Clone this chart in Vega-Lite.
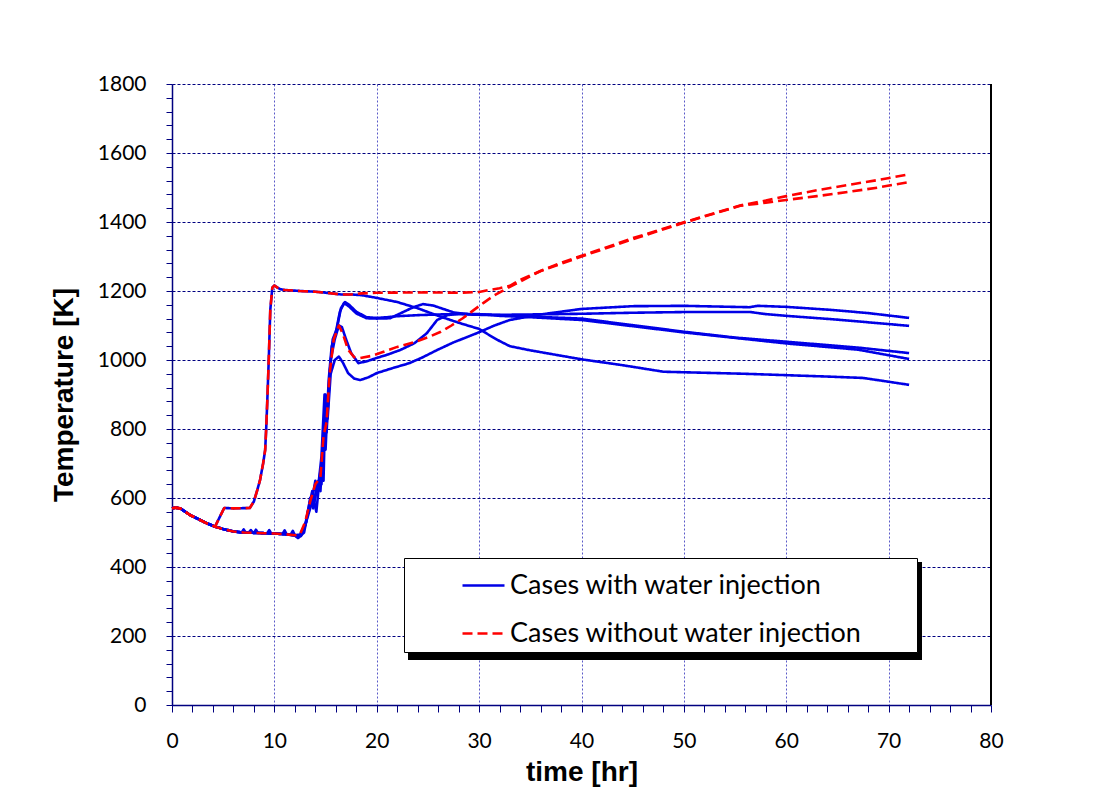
{
"$schema": "https://vega.github.io/schema/vega-lite/v6.json",
"width": 819, "height": 621,
"autosize": {"type": "none"},
"padding": {"left": 172, "top": 84, "right": 128, "bottom": 102},
"background": "white",
"config": {"view": {"stroke": null}},
"datasets": {
"runs": [
{"run":"P","case":"Cases with water injection"},
{"run":"W1","case":"Cases with water injection"},
{"run":"W2","case":"Cases with water injection"},
{"run":"W3","case":"Cases with water injection"},
{"run":"W4","case":"Cases with water injection"},
{"run":"R1","case":"Cases without water injection"},
{"run":"R2","case":"Cases without water injection"}
],
"curves": [
{"run":"P","t":0,"T":570},{"run":"P","t":0.3,"T":572},{"run":"P","t":0.8,"T":570},{"run":"P","t":1.2,"T":562},{"run":"P","t":1.8,"T":550},{"run":"P","t":2.5,"T":540},{"run":"P","t":3.3,"T":528},{"run":"P","t":4.2,"T":517},
{"run":"P","t":5.1,"T":571},{"run":"P","t":6,"T":570},{"run":"P","t":7.6,"T":571},{"run":"P","t":8,"T":590},{"run":"P","t":8.3,"T":620},{"run":"P","t":8.6,"T":652},{"run":"P","t":8.9,"T":700},{"run":"P","t":9.1,"T":739},{"run":"P","t":9.2,"T":800},{"run":"P","t":9.3,"T":875},{"run":"P","t":9.45,"T":1000},{"run":"P","t":9.6,"T":1145},{"run":"P","t":9.8,"T":1210},{"run":"P","t":10,"T":1216},{"run":"P","t":10.3,"T":1210},{"run":"P","t":10.6,"T":1205},{"run":"P","t":11,"T":1203},{"run":"P","t":12.5,"T":1200},{"run":"P","t":14,"T":1198},{"run":"P","t":15,"T":1195},{"run":"P","t":16.5,"T":1190},{"run":"P","t":17.5,"T":1190},
{"run":"P","t":18.5,"T":1188},{"run":"P","t":20,"T":1180},{"run":"P","t":22,"T":1168},{"run":"P","t":24,"T":1150},{"run":"P","t":26,"T":1128},{"run":"P","t":28,"T":1108},{"run":"P","t":30,"T":1090},{"run":"P","t":31,"T":1072},{"run":"P","t":32,"T":1055},{"run":"P","t":33,"T":1040},{"run":"P","t":35,"T":1028},{"run":"P","t":40,"T":1002},{"run":"P","t":44,"T":985},{"run":"P","t":48,"T":966},{"run":"P","t":52,"T":963},{"run":"P","t":56,"T":960},{"run":"P","t":60,"T":956},{"run":"P","t":64,"T":952},{"run":"P","t":67.5,"T":948},{"run":"P","t":70,"T":937},{"run":"P","t":72,"T":928},

{"run":"W1","t":0,"T":570},{"run":"W1","t":0.3,"T":572},{"run":"W1","t":0.8,"T":570},{"run":"W1","t":1.2,"T":562},{"run":"W1","t":1.8,"T":550},{"run":"W1","t":2.5,"T":540},{"run":"W1","t":3.3,"T":528},{"run":"W1","t":4.2,"T":517},
{"run":"W1","t":5,"T":510},{"run":"W1","t":6,"T":503},{"run":"W1","t":6.8,"T":500},{"run":"W1","t":7,"T":509},{"run":"W1","t":7.2,"T":500},{"run":"W1","t":8,"T":499},{"run":"W1","t":9,"T":498},{"run":"W1","t":10,"T":497},{"run":"W1","t":10.8,"T":496},{"run":"W1","t":11,"T":506},{"run":"W1","t":11.2,"T":495},{"run":"W1","t":12,"T":492},{"run":"W1","t":12.5,"T":494},{"run":"W1","t":13,"T":520},{"run":"W1","t":13.4,"T":580},{"run":"W1","t":13.7,"T":620},{"run":"W1","t":13.9,"T":590},{"run":"W1","t":14.3,"T":650},{"run":"W1","t":14.6,"T":640},{"run":"W1","t":14.9,"T":820},{"run":"W1","t":15.1,"T":790},{"run":"W1","t":15.4,"T":960},{"run":"W1","t":15.7,"T":1060},{"run":"W1","t":16.1,"T":1090},{"run":"W1","t":16.5,"T":1150},{"run":"W1","t":16.9,"T":1168},{"run":"W1","t":17.3,"T":1160},{"run":"W1","t":18,"T":1140},{"run":"W1","t":19,"T":1124},{"run":"W1","t":20,"T":1122},{"run":"W1","t":21,"T":1124},{"run":"W1","t":22,"T":1127},{"run":"W1","t":24,"T":1130},{"run":"W1","t":26,"T":1132},{"run":"W1","t":28,"T":1133},{"run":"W1","t":30,"T":1132},{"run":"W1","t":32,"T":1131},{"run":"W1","t":35,"T":1132},{"run":"W1","t":40,"T":1134},{"run":"W1","t":45,"T":1137},{"run":"W1","t":50,"T":1139},{"run":"W1","t":56.5,"T":1139},{"run":"W1","t":58,"T":1133},{"run":"W1","t":60,"T":1128},{"run":"W1","t":65,"T":1117},{"run":"W1","t":72,"T":1099},

{"run":"W2","t":0,"T":570},{"run":"W2","t":0.3,"T":572},{"run":"W2","t":0.8,"T":570},{"run":"W2","t":1.2,"T":562},{"run":"W2","t":1.8,"T":550},{"run":"W2","t":2.5,"T":540},{"run":"W2","t":3.3,"T":528},{"run":"W2","t":4.2,"T":517},
{"run":"W2","t":5,"T":510},{"run":"W2","t":6,"T":503},{"run":"W2","t":7,"T":500},{"run":"W2","t":8,"T":499},{"run":"W2","t":8.2,"T":508},{"run":"W2","t":8.4,"T":499},{"run":"W2","t":9,"T":498},{"run":"W2","t":10,"T":497},{"run":"W2","t":11,"T":495},{"run":"W2","t":11.6,"T":494},{"run":"W2","t":11.8,"T":505},{"run":"W2","t":12,"T":492},{"run":"W2","t":12.6,"T":490},{"run":"W2","t":13.1,"T":530},{"run":"W2","t":13.5,"T":600},{"run":"W2","t":13.8,"T":570},{"run":"W2","t":14.2,"T":640},{"run":"W2","t":14.5,"T":620},{"run":"W2","t":14.8,"T":780},{"run":"W2","t":15,"T":740},{"run":"W2","t":15.3,"T":940},{"run":"W2","t":15.6,"T":1040},{"run":"W2","t":16,"T":1080},{"run":"W2","t":16.4,"T":1140},{"run":"W2","t":16.8,"T":1165},{"run":"W2","t":17.3,"T":1155},{"run":"W2","t":18,"T":1135},{"run":"W2","t":19,"T":1121},{"run":"W2","t":20,"T":1120},{"run":"W2","t":21.3,"T":1121},{"run":"W2","t":22.3,"T":1135},{"run":"W2","t":23.5,"T":1152},{"run":"W2","t":24.5,"T":1162},{"run":"W2","t":25.5,"T":1158},{"run":"W2","t":26.5,"T":1148},{"run":"W2","t":27.5,"T":1138},{"run":"W2","t":29,"T":1132},{"run":"W2","t":30,"T":1131},{"run":"W2","t":32,"T":1130},{"run":"W2","t":35,"T":1126},{"run":"W2","t":40,"T":1120},{"run":"W2","t":45,"T":1101},{"run":"W2","t":50,"T":1082},{"run":"W2","t":55,"T":1065},{"run":"W2","t":60,"T":1053},{"run":"W2","t":67,"T":1036},{"run":"W2","t":72,"T":1020},

{"run":"W3","t":0,"T":570},{"run":"W3","t":0.3,"T":572},{"run":"W3","t":0.8,"T":570},{"run":"W3","t":1.2,"T":562},{"run":"W3","t":1.8,"T":550},{"run":"W3","t":2.5,"T":540},{"run":"W3","t":3.3,"T":528},{"run":"W3","t":4.2,"T":517},
{"run":"W3","t":5,"T":510},{"run":"W3","t":6,"T":503},{"run":"W3","t":7,"T":500},{"run":"W3","t":8,"T":499},{"run":"W3","t":9,"T":498},{"run":"W3","t":9.3,"T":498},{"run":"W3","t":9.5,"T":507},{"run":"W3","t":9.7,"T":497},{"run":"W3","t":10,"T":497},{"run":"W3","t":11,"T":495},{"run":"W3","t":12,"T":492},{"run":"W3","t":12.4,"T":486},{"run":"W3","t":12.9,"T":500},{"run":"W3","t":13.3,"T":560},{"run":"W3","t":13.8,"T":600},{"run":"W3","t":14.1,"T":560},{"run":"W3","t":14.5,"T":680},{"run":"W3","t":14.8,"T":650},{"run":"W3","t":15,"T":900},{"run":"W3","t":15.2,"T":850},{"run":"W3","t":15.5,"T":1000},{"run":"W3","t":15.9,"T":1060},{"run":"W3","t":16.3,"T":1100},{"run":"W3","t":16.6,"T":1095},{"run":"W3","t":17,"T":1060},{"run":"W3","t":17.5,"T":1020},{"run":"W3","t":18.2,"T":991},{"run":"W3","t":19,"T":996},{"run":"W3","t":20,"T":1006},{"run":"W3","t":21,"T":1015},{"run":"W3","t":22.3,"T":1029},{"run":"W3","t":23.7,"T":1049},{"run":"W3","t":24.9,"T":1078},{"run":"W3","t":25.9,"T":1116},{"run":"W3","t":26.9,"T":1130},{"run":"W3","t":28,"T":1134},{"run":"W3","t":30,"T":1133},{"run":"W3","t":32,"T":1128},{"run":"W3","t":35,"T":1124},{"run":"W3","t":40,"T":1116},{"run":"W3","t":45,"T":1098},{"run":"W3","t":50,"T":1080},{"run":"W3","t":55,"T":1064},{"run":"W3","t":60,"T":1048},{"run":"W3","t":67,"T":1030},{"run":"W3","t":72,"T":1003},

{"run":"W4","t":0,"T":570},{"run":"W4","t":0.3,"T":572},{"run":"W4","t":0.8,"T":570},{"run":"W4","t":1.2,"T":562},{"run":"W4","t":1.8,"T":550},{"run":"W4","t":2.5,"T":540},{"run":"W4","t":3.3,"T":528},{"run":"W4","t":4.2,"T":517},
{"run":"W4","t":5,"T":510},{"run":"W4","t":6,"T":503},{"run":"W4","t":7,"T":500},{"run":"W4","t":7.5,"T":500},{"run":"W4","t":7.7,"T":507},{"run":"W4","t":7.9,"T":499},{"run":"W4","t":9,"T":498},{"run":"W4","t":10,"T":497},{"run":"W4","t":11,"T":495},{"run":"W4","t":12,"T":491},{"run":"W4","t":12.3,"T":484},{"run":"W4","t":12.8,"T":500},{"run":"W4","t":13.2,"T":540},{"run":"W4","t":13.6,"T":580},{"run":"W4","t":14,"T":650},{"run":"W4","t":14.2,"T":610},{"run":"W4","t":14.6,"T":720},{"run":"W4","t":14.9,"T":900},{"run":"W4","t":15.2,"T":830},{"run":"W4","t":15.5,"T":960},{"run":"W4","t":15.9,"T":1000},{"run":"W4","t":16.3,"T":1010},{"run":"W4","t":16.7,"T":992},{"run":"W4","t":17.2,"T":962},{"run":"W4","t":17.8,"T":946},{"run":"W4","t":18.4,"T":942},{"run":"W4","t":19.2,"T":950},{"run":"W4","t":20,"T":962},{"run":"W4","t":21.5,"T":976},{"run":"W4","t":23.2,"T":991},{"run":"W4","t":24.5,"T":1008},{"run":"W4","t":25.9,"T":1029},{"run":"W4","t":27.5,"T":1051},{"run":"W4","t":29.8,"T":1078},{"run":"W4","t":31.5,"T":1100},{"run":"W4","t":33,"T":1116},{"run":"W4","t":36,"T":1132},{"run":"W4","t":40,"T":1148},{"run":"W4","t":45,"T":1156},{"run":"W4","t":50,"T":1157},{"run":"W4","t":56.4,"T":1153},{"run":"W4","t":57.2,"T":1157},{"run":"W4","t":60,"T":1154},{"run":"W4","t":64.5,"T":1145},{"run":"W4","t":68,"T":1136},{"run":"W4","t":72,"T":1122},

{"run":"R1","t":0,"T":570},{"run":"R1","t":0.3,"T":572},{"run":"R1","t":0.8,"T":570},{"run":"R1","t":1.2,"T":562},{"run":"R1","t":1.8,"T":550},{"run":"R1","t":2.5,"T":540},{"run":"R1","t":3.3,"T":528},{"run":"R1","t":4.2,"T":517},
{"run":"R1","t":5.1,"T":571},{"run":"R1","t":6,"T":570},{"run":"R1","t":7.6,"T":571},{"run":"R1","t":8,"T":590},{"run":"R1","t":8.3,"T":620},{"run":"R1","t":8.6,"T":652},{"run":"R1","t":8.9,"T":700},{"run":"R1","t":9.1,"T":739},{"run":"R1","t":9.2,"T":800},{"run":"R1","t":9.3,"T":875},{"run":"R1","t":9.45,"T":1000},{"run":"R1","t":9.6,"T":1145},{"run":"R1","t":9.8,"T":1210},{"run":"R1","t":10,"T":1216},{"run":"R1","t":10.3,"T":1210},{"run":"R1","t":10.6,"T":1205},{"run":"R1","t":11,"T":1203},{"run":"R1","t":12.5,"T":1200},{"run":"R1","t":14,"T":1198},{"run":"R1","t":15,"T":1195},{"run":"R1","t":16.5,"T":1190},{"run":"R1","t":17.5,"T":1190},
{"run":"R1","t":18.5,"T":1193},{"run":"R1","t":20,"T":1195},{"run":"R1","t":25,"T":1196},{"run":"R1","t":28,"T":1195},{"run":"R1","t":30,"T":1197},{"run":"R1","t":31,"T":1203},{"run":"R1","t":32,"T":1208},{"run":"R1","t":33,"T":1215},{"run":"R1","t":34,"T":1232},{"run":"R1","t":36,"T":1258},{"run":"R1","t":38,"T":1282},{"run":"R1","t":40,"T":1302},{"run":"R1","t":45,"T":1353},{"run":"R1","t":50,"T":1399},{"run":"R1","t":55.5,"T":1448},{"run":"R1","t":58,"T":1462},{"run":"R1","t":60,"T":1475},{"run":"R1","t":63,"T":1492},{"run":"R1","t":66,"T":1507},{"run":"R1","t":69,"T":1522},{"run":"R1","t":72,"T":1538},

{"run":"R2","t":0,"T":570},{"run":"R2","t":0.3,"T":572},{"run":"R2","t":0.8,"T":570},{"run":"R2","t":1.2,"T":562},{"run":"R2","t":1.8,"T":550},{"run":"R2","t":2.5,"T":540},{"run":"R2","t":3.3,"T":528},{"run":"R2","t":4.2,"T":517},
{"run":"R2","t":5,"T":510},{"run":"R2","t":6,"T":503},{"run":"R2","t":7,"T":500},{"run":"R2","t":8,"T":499},{"run":"R2","t":9,"T":498},{"run":"R2","t":10,"T":497},{"run":"R2","t":11,"T":495},{"run":"R2","t":12,"T":492},{"run":"R2","t":12.5,"T":495},{"run":"R2","t":13,"T":530},{"run":"R2","t":13.5,"T":590},{"run":"R2","t":14,"T":640},{"run":"R2","t":14.5,"T":660},{"run":"R2","t":14.8,"T":780},{"run":"R2","t":15.1,"T":820},{"run":"R2","t":15.4,"T":960},{"run":"R2","t":15.8,"T":1060},{"run":"R2","t":16.3,"T":1100},{"run":"R2","t":16.7,"T":1075},{"run":"R2","t":17.2,"T":1030},{"run":"R2","t":17.8,"T":1008},{"run":"R2","t":18.4,"T":1006},{"run":"R2","t":19.5,"T":1012},{"run":"R2","t":20.6,"T":1023},{"run":"R2","t":22,"T":1038},{"run":"R2","t":23.7,"T":1052},{"run":"R2","t":25,"T":1066},{"run":"R2","t":26.2,"T":1081},{"run":"R2","t":27.3,"T":1100},{"run":"R2","t":28.4,"T":1121},{"run":"R2","t":29.4,"T":1143},{"run":"R2","t":30.4,"T":1165},{"run":"R2","t":31.5,"T":1188},{"run":"R2","t":33,"T":1212},{"run":"R2","t":36,"T":1258},{"run":"R2","t":40,"T":1300},{"run":"R2","t":45,"T":1350},{"run":"R2","t":50,"T":1398},{"run":"R2","t":55.5,"T":1447},{"run":"R2","t":58,"T":1456},{"run":"R2","t":60,"T":1464},{"run":"R2","t":63,"T":1475},{"run":"R2","t":66,"T":1487},{"run":"R2","t":69,"T":1500},{"run":"R2","t":72,"T":1516}
]
},
"data": {"name": "curves"},
"transform": [{"lookup": "run", "from": {"data": {"name": "runs"}, "key": "run", "fields": ["case"]}}],
"layer": [
{
"mark": {"type": "point", "opacity": 0},
"encoding": {
"x": {"field": "t", "type": "quantitative", "scale": {"domain": [0, 80], "nice": false},
"axis": {"title": "time [hr]", "titleFont": "Liberation Sans", "titleFontSize": 28, "titleFontWeight": "bold", "titleColor": "black", "titleX": 409.5, "titleY": 75, "titleAlign": "center", "titleBaseline": "alphabetic",
"values": [0,2,4,6,8,10,12,14,16,18,20,22,24,26,28,30,32,34,36,38,40,42,44,46,48,50,52,54,56,58,60,62,64,66,68,70,72,74,76,78,80],
"labelExpr": "datum.value % 10 === 0 ? datum.label : ''",
"labelFont": "Lato", "labelFontSize": 21, "labelColor": "black", "labelPadding": 35, "labelBaseline": "alphabetic", "labelOverlap": false, "labelFlush": false,
"tickSize": 7, "tickColor": "#000080", "tickWidth": 1, "domainColor": "#000080", "domainWidth": 1.5,
"grid": true, "gridColor": "#5a5ac8", "gridDash": [2, 2], "gridWidth": 1,
"gridOpacity": {"condition": {"test": "datum.value % 10 === 0", "value": 1}, "value": 0}}},
"y": {"field": "T", "type": "quantitative", "scale": {"domain": [0, 1800], "nice": false},
"axis": {"title": "Temperature [K]", "titleFont": "Liberation Sans", "titleFontSize": 28, "titleFontWeight": "bold", "titleColor": "black", "titleAngle": -90, "titleX": -100, "titleY": 310.5, "titleAlign": "center", "titleBaseline": "alphabetic",
"values": [0,40,80,120,160,200,240,280,320,360,400,440,480,520,560,600,640,680,720,760,800,840,880,920,960,1000,1040,1080,1120,1160,1200,1240,1280,1320,1360,1400,1440,1480,1520,1560,1600,1640,1680,1720,1760,1800],
"format": "d", "labelExpr": "datum.value % 200 === 0 ? datum.label : ''",
"labelFont": "Lato", "labelFontSize": 21, "labelColor": "black", "labelPadding": 20, "labelOverlap": false, "labelFlush": false,
"tickSize": 6, "tickColor": "#000080", "tickWidth": 1, "domainColor": "#000080", "domainWidth": 1.5,
"grid": true, "gridColor": "#000080", "gridDash": [3, 2], "gridWidth": 1,
"gridOpacity": {"condition": {"test": "datum.value % 200 === 0", "value": 1}, "value": 0}}},
"fill": {"field": "T", "type": "quantitative", "scale": {"range": ["#000000", "#000000"]},
"legend": {"title": null, "orient": "none", "legendX": 236, "legendY": 478, "direction": "horizontal", "gradientLength": 514, "gradientThickness": 98, "gradientStrokeWidth": 0, "labelOpacity": 0, "padding": 0, "zindex": 1}}
}
},
{
"transform": [{"filter": "datum.case === 'Cases with water injection'"}],
"mark": {"type": "line", "strokeWidth": 2.6, "strokeJoin": "round"},
"encoding": {
"x": {"field": "t", "type": "quantitative", "scale": {"domain": [0, 80], "nice": false},
"axis": {"title": "time [hr]", "titleFont": "Liberation Sans", "titleFontSize": 28, "titleFontWeight": "bold", "titleColor": "black", "titleX": 409.5, "titleY": 75, "titleAlign": "center", "titleBaseline": "alphabetic",
"values": [0,2,4,6,8,10,12,14,16,18,20,22,24,26,28,30,32,34,36,38,40,42,44,46,48,50,52,54,56,58,60,62,64,66,68,70,72,74,76,78,80],
"labelExpr": "datum.value % 10 === 0 ? datum.label : ''",
"labelFont": "Lato", "labelFontSize": 21, "labelColor": "black", "labelPadding": 35, "labelBaseline": "alphabetic", "labelOverlap": false, "labelFlush": false,
"tickSize": 7, "tickColor": "#000080", "tickWidth": 1, "domainColor": "#000080", "domainWidth": 1.5,
"grid": true, "gridColor": "#5a5ac8", "gridDash": [2, 2], "gridWidth": 1,
"gridOpacity": {"condition": {"test": "datum.value % 10 === 0", "value": 1}, "value": 0}}},
"y": {"field": "T", "type": "quantitative", "scale": {"domain": [0, 1800], "nice": false},
"axis": {"title": "Temperature [K]", "titleFont": "Liberation Sans", "titleFontSize": 28, "titleFontWeight": "bold", "titleColor": "black", "titleAngle": -90, "titleX": -100, "titleY": 310.5, "titleAlign": "center", "titleBaseline": "alphabetic",
"values": [0,40,80,120,160,200,240,280,320,360,400,440,480,520,560,600,640,680,720,760,800,840,880,920,960,1000,1040,1080,1120,1160,1200,1240,1280,1320,1360,1400,1440,1480,1520,1560,1600,1640,1680,1720,1760,1800],
"format": "d", "labelExpr": "datum.value % 200 === 0 ? datum.label : ''",
"labelFont": "Lato", "labelFontSize": 21, "labelColor": "black", "labelPadding": 20, "labelOverlap": false, "labelFlush": false,
"tickSize": 6, "tickColor": "#000080", "tickWidth": 1, "domainColor": "#000080", "domainWidth": 1.5,
"grid": true, "gridColor": "#000080", "gridDash": [3, 2], "gridWidth": 1,
"gridOpacity": {"condition": {"test": "datum.value % 200 === 0", "value": 1}, "value": 0}}},
"color": {"field": "case", "type": "nominal",
"scale": {"domain": ["Cases with water injection", "Cases without water injection"], "range": ["#0000e6", "#ff0000"]},
"legend": {"title": " ", "titleOrient": "right", "titlePadding": 50, "titleFontSize": 1, "orient": "none", "legendX": 232, "legendY": 474, "direction": "vertical", "fillColor": "white", "strokeColor": "black", "padding": 5, "symbolType": "stroke", "symbolSize": 1764, "symbolStrokeWidth": 2.5, "symbolOffset": 52, "labelFont": "Lato", "labelFontSize": 27, "labelColor": "black", "labelOffset": 4, "labelLimit": 600, "rowPadding": 12, "zindex": 2}},
"strokeDash": {"field": "case", "type": "nominal",
"scale": {"domain": ["Cases with water injection", "Cases without water injection"], "range": [[1, 0], [10, 5]]},
"legend": {"title": " ", "titleOrient": "right", "titlePadding": 50, "titleFontSize": 1, "orient": "none", "legendX": 232, "legendY": 474, "direction": "vertical", "fillColor": "white", "strokeColor": "black", "padding": 5, "symbolType": "stroke", "symbolSize": 1764, "symbolStrokeWidth": 2.5, "symbolOffset": 52, "labelFont": "Lato", "labelFontSize": 27, "labelColor": "black", "labelOffset": 4, "labelLimit": 600, "rowPadding": 12, "zindex": 2}},
"detail": {"field": "run", "type": "nominal"}
}
},
{
"transform": [{"filter": "datum.case === 'Cases without water injection'"}],
"mark": {"type": "line", "strokeWidth": 2.6, "strokeJoin": "round"},
"encoding": {
"x": {"field": "t", "type": "quantitative", "scale": {"domain": [0, 80], "nice": false},
"axis": {"title": "time [hr]", "titleFont": "Liberation Sans", "titleFontSize": 28, "titleFontWeight": "bold", "titleColor": "black", "titleX": 409.5, "titleY": 75, "titleAlign": "center", "titleBaseline": "alphabetic",
"values": [0,2,4,6,8,10,12,14,16,18,20,22,24,26,28,30,32,34,36,38,40,42,44,46,48,50,52,54,56,58,60,62,64,66,68,70,72,74,76,78,80],
"labelExpr": "datum.value % 10 === 0 ? datum.label : ''",
"labelFont": "Lato", "labelFontSize": 21, "labelColor": "black", "labelPadding": 35, "labelBaseline": "alphabetic", "labelOverlap": false, "labelFlush": false,
"tickSize": 7, "tickColor": "#000080", "tickWidth": 1, "domainColor": "#000080", "domainWidth": 1.5,
"grid": true, "gridColor": "#5a5ac8", "gridDash": [2, 2], "gridWidth": 1,
"gridOpacity": {"condition": {"test": "datum.value % 10 === 0", "value": 1}, "value": 0}}},
"y": {"field": "T", "type": "quantitative", "scale": {"domain": [0, 1800], "nice": false},
"axis": {"title": "Temperature [K]", "titleFont": "Liberation Sans", "titleFontSize": 28, "titleFontWeight": "bold", "titleColor": "black", "titleAngle": -90, "titleX": -100, "titleY": 310.5, "titleAlign": "center", "titleBaseline": "alphabetic",
"values": [0,40,80,120,160,200,240,280,320,360,400,440,480,520,560,600,640,680,720,760,800,840,880,920,960,1000,1040,1080,1120,1160,1200,1240,1280,1320,1360,1400,1440,1480,1520,1560,1600,1640,1680,1720,1760,1800],
"format": "d", "labelExpr": "datum.value % 200 === 0 ? datum.label : ''",
"labelFont": "Lato", "labelFontSize": 21, "labelColor": "black", "labelPadding": 20, "labelOverlap": false, "labelFlush": false,
"tickSize": 6, "tickColor": "#000080", "tickWidth": 1, "domainColor": "#000080", "domainWidth": 1.5,
"grid": true, "gridColor": "#000080", "gridDash": [3, 2], "gridWidth": 1,
"gridOpacity": {"condition": {"test": "datum.value % 200 === 0", "value": 1}, "value": 0}}},
"color": {"field": "case", "type": "nominal",
"scale": {"domain": ["Cases with water injection", "Cases without water injection"], "range": ["#0000e6", "#ff0000"]},
"legend": {"title": " ", "titleOrient": "right", "titlePadding": 50, "titleFontSize": 1, "orient": "none", "legendX": 232, "legendY": 474, "direction": "vertical", "fillColor": "white", "strokeColor": "black", "padding": 5, "symbolType": "stroke", "symbolSize": 1764, "symbolStrokeWidth": 2.5, "symbolOffset": 52, "labelFont": "Lato", "labelFontSize": 27, "labelColor": "black", "labelOffset": 4, "labelLimit": 600, "rowPadding": 12, "zindex": 2}},
"strokeDash": {"field": "case", "type": "nominal",
"scale": {"domain": ["Cases with water injection", "Cases without water injection"], "range": [[1, 0], [10, 5]]},
"legend": {"title": " ", "titleOrient": "right", "titlePadding": 50, "titleFontSize": 1, "orient": "none", "legendX": 232, "legendY": 474, "direction": "vertical", "fillColor": "white", "strokeColor": "black", "padding": 5, "symbolType": "stroke", "symbolSize": 1764, "symbolStrokeWidth": 2.5, "symbolOffset": 52, "labelFont": "Lato", "labelFontSize": 27, "labelColor": "black", "labelOffset": 4, "labelLimit": 600, "rowPadding": 12, "zindex": 2}},
"detail": {"field": "run", "type": "nominal"}
}
},
{
"mark": {"type": "rule", "color": "black", "strokeWidth": 1.5},
"encoding": {
"x": {"datum": 80, "type": "quantitative", "scale": {"domain": [0, 80], "nice": false},
"axis": {"title": "time [hr]", "titleFont": "Liberation Sans", "titleFontSize": 28, "titleFontWeight": "bold", "titleColor": "black", "titleX": 409.5, "titleY": 75, "titleAlign": "center", "titleBaseline": "alphabetic",
"values": [0,2,4,6,8,10,12,14,16,18,20,22,24,26,28,30,32,34,36,38,40,42,44,46,48,50,52,54,56,58,60,62,64,66,68,70,72,74,76,78,80],
"labelExpr": "datum.value % 10 === 0 ? datum.label : ''",
"labelFont": "Lato", "labelFontSize": 21, "labelColor": "black", "labelPadding": 35, "labelBaseline": "alphabetic", "labelOverlap": false, "labelFlush": false,
"tickSize": 7, "tickColor": "#000080", "tickWidth": 1, "domainColor": "#000080", "domainWidth": 1.5,
"grid": true, "gridColor": "#5a5ac8", "gridDash": [2, 2], "gridWidth": 1,
"gridOpacity": {"condition": {"test": "datum.value % 10 === 0", "value": 1}, "value": 0}}}
}
}
]
}
